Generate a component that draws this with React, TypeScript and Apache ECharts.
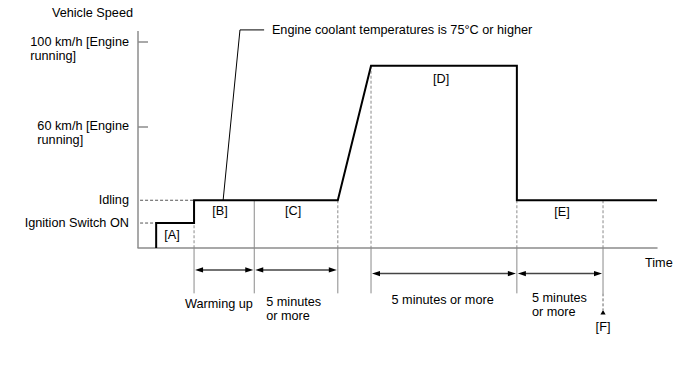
import React, { useEffect, useRef } from 'react';
import * as echarts from 'echarts';

const FONT = '"Liberation Sans", Arial, Helvetica, sans-serif';
const FS = 12.7;

// Time runs on an arbitrary 0–100 scale, speed on an arbitrary 0–100 level scale.
const speedTime = [3.5, 3.5, 10.8, 10.8, 38.5, 44.9, 73, 73, 100];
const speedLevel = [0, 11.5, 11.5, 22, 22, 84, 84, 22, 22];

const levelValues = [11.5, 22, 56, 95];
const levelLabels = ['Ignition Switch ON', 'Idling', '60 km/h [Engine\nrunning]', '100 km/h [Engine\nrunning]'];
const tickValues = [56, 95];

const guideLevels = [11.5, 22];
const guideEnds = [3.5, 10.8];

const boundaryX = [10.8, 22.4, 38.5, 44.9, 73, 89.6];
const boundaryTop = [22, 22, 22, 84, 22, 22];
const boundaryDashed = [1, 0, 1, 1, 1, 1];
const boundaryBottom = -20.9;

const intervalStart = [10.8, 22.4, 44.9, 73];
const intervalEnd = [22.4, 38.5, 73, 89.6];
const intervalLevel = [-10.1, -10.1, -11.8, -11.8];

const markerX = [89.6];
const markerFrom = [-20.9];
const markerTip = [-28.6];

const leaderTime = [16.4, 19.65, 24.3];
const leaderLevel = [22, 100.5, 100.5];

const noteTexts = [
  '[A]', '[B]', '[C]', '[D]', '[E]',
  'Warming up', '5 minutes\nor more', '5 minutes or more', '5 minutes\nor more', '[F]',
  'Engine coolant temperatures is 75°C or higher',
];
const noteX = [6.55, 15.8, 29.9, 58.4, 81.7, 15.6, 24.7, 58.7, 75.9, 89.6, 25.8];
const noteY = [6.0, 17.1, 17.1, 77.9, 16.6, -25.8, -28.1, -24.0, -26.4, -36.4, 100.5];
const noteAlign = ['center', 'center', 'center', 'center', 'center', 'center', 'left', 'center', 'left', 'center', 'left'];

const AXIS_GRAY = '#8c8c8c';

export default function App() {
  const ref = useRef<HTMLDivElement>(null);

  useEffect(() => {
    document.body.style.margin = '0';
    if (!ref.current) return;
    const chart = echarts.init(ref.current, null, { renderer: 'svg' });

    const option: any = {
      animation: false,
      backgroundColor: '#fff',
      textStyle: { fontFamily: FONT },
      grid: { left: 138, top: 31, width: 519, height: 303.8, outerBoundsMode: 'none', containLabel: false },
      xAxis: {
        type: 'value',
        min: 0,
        max: 100,
        axisLine: { show: true, onZero: true, lineStyle: { color: AXIS_GRAY, width: 1.5 } },
        axisTick: { show: false },
        axisLabel: { show: false },
        splitLine: { show: false },
        name: 'Time',
        nameLocation: 'end',
        nameGap: -12,
        nameTextStyle: { fontFamily: FONT, fontSize: FS, color: '#000', align: 'left', verticalAlign: 'top', padding: [8, 0, 0, 0] },
      },
      yAxis: {
        type: 'value',
        min: -40,
        max: 100,
        axisLine: { show: false },
        axisTick: { show: true, customValues: tickValues, inside: true, length: 10, lineStyle: { color: AXIS_GRAY, width: 1.5 } },
        axisLabel: {
          show: true,
          customValues: levelValues,
          margin: 9,
          fontFamily: FONT,
          fontSize: FS,
          lineHeight: 14,
          color: '#000',
          formatter: (v: number) => {
            const i = levelValues.indexOf(v);
            const t = i >= 0 ? levelLabels[i] : '';
            if (t.indexOf('\n') >= 0) {
              return '\n' + t.split('\n').map((s) => `{l|${s}}`).join('\n');
            }
            return t;
          },
          rich: { l: { align: 'left', fontFamily: FONT, fontSize: FS, lineHeight: 14, color: '#000' } },
        },
        splitLine: { show: false },
        name: 'Vehicle Speed',
        nameLocation: 'end',
        nameGap: 18,
        nameTextStyle: { fontFamily: FONT, fontSize: FS, color: '#000', align: 'right', verticalAlign: 'middle', padding: [0, 5, 0, 0] },
      },
      series: [
        {
          type: 'line',
          name: 'yAxisLine',
          data: [[0, 0], [0, 100]],
          symbol: 'none',
          silent: true,
          lineStyle: { color: AXIS_GRAY, width: 1.5 },
          z: 1,
        },
        ...guideLevels.map((lv, i) => ({
          type: 'line',
          name: 'guide' + i,
          data: [[0.4, lv], [guideEnds[i], lv]],
          symbol: 'none',
          silent: true,
          lineStyle: { color: '#555', width: 1, type: [3, 2] },
          z: 2,
        })),
        {
          type: 'custom',
          name: 'boundaries',
          silent: true,
          data: boundaryX.map((x, i) => [x, boundaryTop[i], boundaryDashed[i]]),
          renderItem: (params: any, api: any) => {
            const x = api.value(0);
            const top = api.value(1);
            const dashed = api.value(2);
            const pT = api.coord([x, top]);
            const p0 = api.coord([x, 0]);
            const pB = api.coord([x, boundaryBottom]);
            const children: any[] = [];
            if (dashed) {
              children.push({ type: 'line', shape: { x1: pT[0], y1: pT[1], x2: p0[0], y2: p0[1] }, style: { stroke: '#8a8a8a', lineWidth: 1, lineDash: [3, 2] } });
              children.push({ type: 'line', shape: { x1: p0[0], y1: p0[1], x2: pB[0], y2: pB[1] }, style: { stroke: '#8a8a8a', lineWidth: 1 } });
            } else {
              children.push({ type: 'line', shape: { x1: pT[0], y1: pT[1], x2: pB[0], y2: pB[1] }, style: { stroke: '#8a8a8a', lineWidth: 1 } });
            }
            return { type: 'group', children };
          },
          z: 2,
        },
        {
          type: 'custom',
          name: 'marker',
          silent: true,
          data: markerX.map((x, i) => [x, markerFrom[i], markerTip[i]]),
          renderItem: (params: any, api: any) => {
            const x = api.value(0);
            const a = api.coord([x, api.value(1)]);
            const b = api.coord([x, api.value(2)]);
            return {
              type: 'group',
              children: [
                { type: 'line', shape: { x1: a[0], y1: a[1], x2: b[0], y2: b[1] }, style: { stroke: '#666', lineWidth: 1, lineDash: [3, 2] } },
                { type: 'polygon', shape: { points: [[b[0], b[1]], [b[0] - 2.6, b[1] + 4.5], [b[0] + 2.6, b[1] + 4.5]] }, style: { fill: '#000' } },
              ],
            };
          },
          z: 3,
        },
        {
          type: 'custom',
          name: 'intervals',
          silent: true,
          data: intervalStart.map((s, i) => [s, intervalEnd[i], intervalLevel[i]]),
          renderItem: (params: any, api: any) => {
            const y = api.value(2);
            const a = api.coord([api.value(0), y]);
            const b = api.coord([api.value(1), y]);
            const L = 8;
            const H = 2.7;
            const ax = a[0] + 1;
            const bx = b[0] - 1;
            return {
              type: 'group',
              children: [
                { type: 'line', shape: { x1: ax + L - 1, y1: a[1], x2: bx - L + 1, y2: b[1] }, style: { stroke: '#444', lineWidth: 1.5 } },
                { type: 'polygon', shape: { points: [[ax, a[1]], [ax + L, a[1] - H], [ax + L, a[1] + H]] }, style: { fill: '#000' } },
                { type: 'polygon', shape: { points: [[bx, b[1]], [bx - L, b[1] - H], [bx - L, b[1] + H]] }, style: { fill: '#000' } },
              ],
            };
          },
          z: 3,
        },
        {
          type: 'line',
          name: 'leader',
          data: leaderTime.map((t, i) => [t, leaderLevel[i]]),
          symbol: 'none',
          silent: true,
          clip: false,
          lineStyle: { color: '#000', width: 1 },
          z: 4,
        },
        {
          type: 'line',
          name: 'Vehicle Speed',
          data: speedTime.map((t, i) => [t, speedLevel[i]]),
          symbol: 'none',
          silent: true,
          clip: false,
          lineStyle: { color: '#000', width: 2, join: 'miter' },
          z: 5,
        },
        {
          type: 'custom',
          name: 'notes',
          silent: true,
          data: noteX.map((x, i) => [x, noteY[i]]),
          renderItem: (params: any, api: any) => {
            const i = params.dataIndex;
            const p = api.coord([api.value(0), api.value(1)]);
            return {
              type: 'text',
              x: p[0],
              y: p[1],
              style: {
                text: noteTexts[i],
                fill: '#000',
                font: `${FS}px ${FONT}`,
                align: noteAlign[i],
                verticalAlign: 'middle',
                lineHeight: 14,
              },
            };
          },
          z: 6,
        },
      ],
    };

    chart.setOption(option);
    return () => {
      chart.dispose();
    };
  }, []);

  return <div ref={ref} style={{ position: 'absolute', left: 0, top: 0, width: 688, height: 366 }} />;
}
